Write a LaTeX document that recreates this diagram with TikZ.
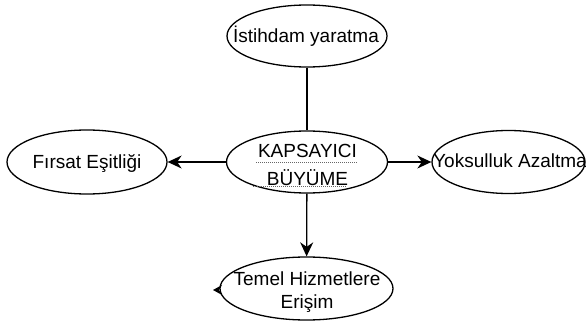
\documentclass[tikz,border=0pt]{standalone}
\usepackage{fontspec}
\setmainfont{Liberation Sans}
\usetikzlibrary{shapes.geometric,arrows.meta}
\tikzset{
  oval/.style={draw, ellipse, line width=1.3pt, inner sep=0pt, minimum width=160pt, minimum height=62pt},
  yazi/.style={font=\fontsize{19}{23}\selectfont, align=center, inner sep=0pt},
  ok/.style={line width=1.3pt, -{Stealth[length=14pt,width=13pt,inset=4.5pt]}},
  imla/.style={densely dotted, line width=1pt, black!60}
}
\begin{document}
\begin{tikzpicture}[x=1pt,y=-1pt]
  \useasboundingbox (0,0) rectangle (586,323);
  \node[oval] (istihdam) at (307,36) {}; %Haut
  \node[yazi] (istihdam-t) at (306,36.5) {İstihdam yaratma};
  \node[oval, minimum width=161pt] (kapsayici) at (307,162) {}; %Centre
  \node[yazi] (kapsayici-t) at (307.5,164.5) {KAPSAYICI\\[5pt]BÜYÜME};
  \draw[imla] (256,163) -- (357,163); \draw[imla] (253,187) -- (347,187); %Souligne
  \node[oval, minimum height=64pt] (firsat) at (87,162) {}; %Gauche
  \node[yazi] (firsat-t) at (87,163.5) {Fırsat Eşitliği};
  \node[oval, minimum width=153pt, minimum height=63pt] (yoksulluk) at (508.5,162) {}; %Droite
  \node[yazi] (yoksulluk-t) at (510,161) {Yoksulluk Azaltma};
  \node[oval, minimum width=173pt, minimum height=63pt] (temel) at (306.5,288.5) {}; %Bas
  \node[yazi] (temel-t) at (307,292) {Temel Hizmetlere\\Erişim};
  \draw[line width=1.3pt] (istihdam) -- (kapsayici);
  \draw[ok] (kapsayici) -- (firsat);
  \draw[ok] (kapsayici) -- (yoksulluk);
  \draw[ok] (kapsayici) -- (temel);
  \fill (213,290) -- (222,285) -- (219,290) -- (222,295) -- cycle; %Pointe seule
\end{tikzpicture}
\end{document}
